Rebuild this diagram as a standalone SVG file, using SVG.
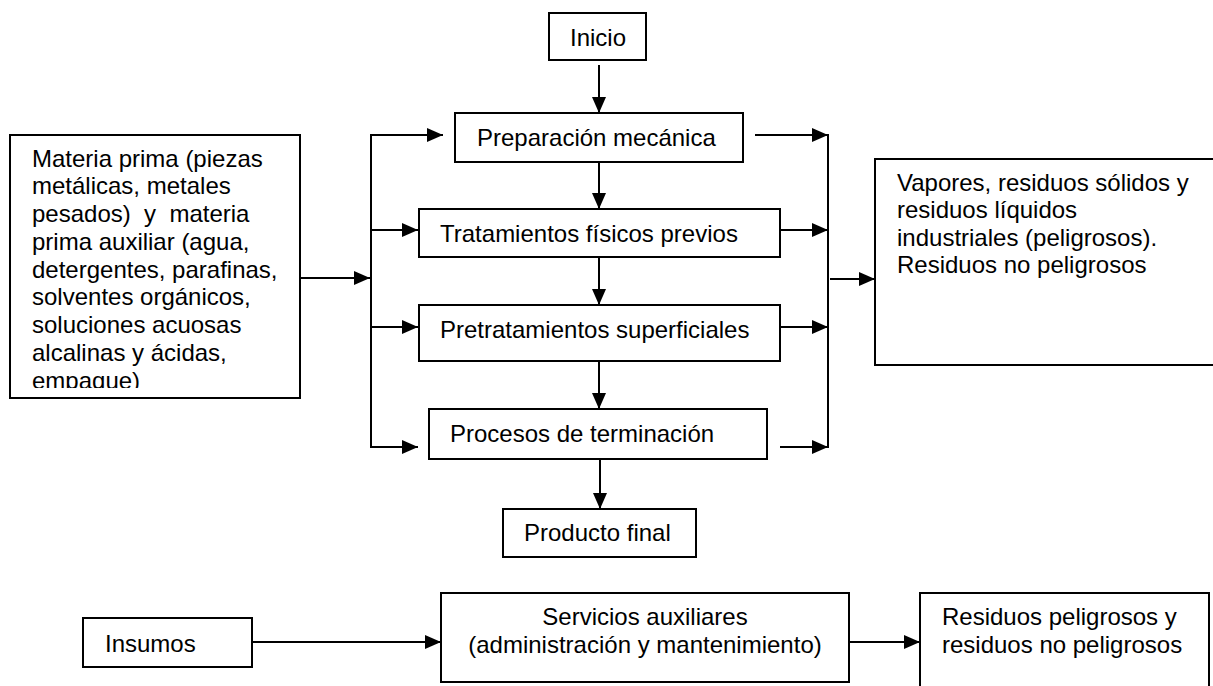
<svg xmlns="http://www.w3.org/2000/svg" width="1213" height="686" viewBox="0 0 1213 686">
<style>
.box{fill:#fff;stroke:#000;stroke-width:2}
.t{font-family:"Liberation Sans",Arial,sans-serif;font-size:24px;fill:#000;white-space:pre}
.c{text-anchor:middle}
.ln{fill:none;stroke:#000;stroke-width:2}
</style>
<defs>
<marker id="ah" markerWidth="16" markerHeight="14" refX="16" refY="7" orient="auto" markerUnits="userSpaceOnUse">
<path d="M0,0 L16,7 L0,14 Z" fill="#000"/>
</marker>
<clipPath id="mpclip"><rect x="10" y="135" width="290" height="253"/></clipPath>
</defs>
<rect width="1213" height="686" fill="#fff"/>

<g id="connectors">
<line class="ln" x1="599" y1="65" x2="599" y2="113" marker-end="url(#ah)"/>
<line class="ln" x1="599" y1="162" x2="599" y2="209" marker-end="url(#ah)"/>
<line class="ln" x1="599" y1="257" x2="599" y2="305" marker-end="url(#ah)"/>
<line class="ln" x1="599" y1="361" x2="599" y2="409" marker-end="url(#ah)"/>
<line class="ln" x1="600" y1="459" x2="600" y2="509" marker-end="url(#ah)"/>
<line class="ln" x1="300" y1="278" x2="370" y2="278" marker-end="url(#ah)"/>
<line class="ln" x1="371" y1="134" x2="371" y2="448"/>
<line class="ln" x1="370" y1="135" x2="443" y2="135" marker-end="url(#ah)"/>
<line class="ln" x1="370" y1="230" x2="418" y2="230" marker-end="url(#ah)"/>
<line class="ln" x1="370" y1="327" x2="418" y2="327" marker-end="url(#ah)"/>
<line class="ln" x1="370" y1="447" x2="418" y2="447" marker-end="url(#ah)"/>
<line class="ln" x1="828" y1="134" x2="828" y2="448"/>
<line class="ln" x1="755" y1="135" x2="828" y2="135" marker-end="url(#ah)"/>
<line class="ln" x1="780" y1="230" x2="828" y2="230" marker-end="url(#ah)"/>
<line class="ln" x1="780" y1="327" x2="828" y2="327" marker-end="url(#ah)"/>
<line class="ln" x1="780" y1="447" x2="828" y2="447" marker-end="url(#ah)"/>
<line class="ln" x1="830" y1="279" x2="875" y2="279" marker-end="url(#ah)"/>
<line class="ln" x1="252" y1="642" x2="441" y2="642" marker-end="url(#ah)"/>
<line class="ln" x1="849" y1="642" x2="920" y2="642" marker-end="url(#ah)"/>
</g>

<g id="inicio">
<rect class="box" x="549" y="13" width="97" height="47"/>
<text class="t c" x="598" y="46">Inicio</text>
</g>

<g id="preparacion">
<rect class="box" x="455" y="113" width="288" height="49"/>
<text class="t" x="477" y="146">Preparación mecánica</text>
</g>

<g id="tratamientos">
<rect class="box" x="419" y="209" width="361" height="48"/>
<text class="t" x="440" y="242">Tratamientos físicos previos</text>
</g>

<g id="pretratamientos">
<rect class="box" x="419" y="305" width="361" height="56"/>
<text class="t" x="440" y="338">Pretratamientos superficiales</text>
</g>

<g id="procesos">
<rect class="box" x="429" y="409" width="338" height="50"/>
<text class="t" x="450" y="442">Procesos de terminación</text>
</g>

<g id="producto">
<rect class="box" x="503" y="509" width="193" height="48"/>
<text class="t" x="524" y="541">Producto final</text>
</g>

<g id="materia">
<rect class="box" x="10" y="135" width="290" height="263"/>
<g clip-path="url(#mpclip)">
<text class="t" x="32" y="167">Materia prima (piezas</text>
<text class="t" x="32" y="194">metálicas, metales</text>
<text class="t" x="32" y="222">pesados)  y  materia</text>
<text class="t" x="32" y="250">prima auxiliar (agua,</text>
<text class="t" x="32" y="278">detergentes, parafinas,</text>
<text class="t" x="32" y="305">solventes orgánicos,</text>
<text class="t" x="32" y="333">soluciones acuosas</text>
<text class="t" x="32" y="361">alcalinas y ácidas,</text>
<text class="t" x="32" y="389">empaque)</text>
</g>
</g>

<g id="vapores">
<rect class="box" x="875" y="159" width="350" height="206"/>
<text class="t" x="897" y="191">Vapores, residuos sólidos y</text>
<text class="t" x="897" y="218">residuos líquidos</text>
<text class="t" x="897" y="246">industriales (peligrosos).</text>
<text class="t" x="897" y="273">Residuos no peligrosos</text>
</g>

<g id="insumos">
<rect class="box" x="83" y="618" width="169" height="49"/>
<text class="t" x="105" y="652">Insumos</text>
</g>

<g id="servicios">
<rect class="box" x="441" y="593" width="408" height="89"/>
<text class="t c" x="645" y="625">Servicios auxiliares</text>
<text class="t c" x="645" y="653">(administración y mantenimiento)</text>
</g>

<g id="residuos">
<rect class="box" x="920" y="593" width="289" height="110"/>
<text class="t" x="942" y="625">Residuos peligrosos y</text>
<text class="t" x="942" y="653">residuos no peligrosos</text>
</g>
</svg>
